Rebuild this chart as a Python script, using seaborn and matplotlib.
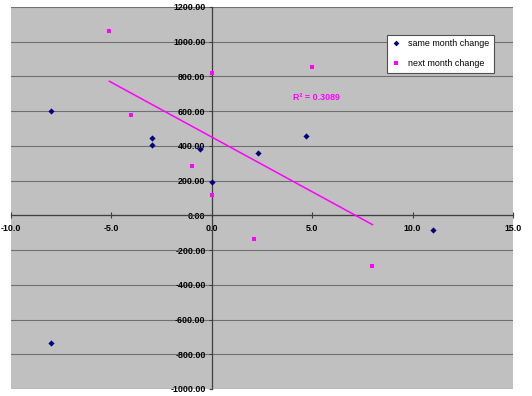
import numpy as np
import pandas as pd
import matplotlib
matplotlib.use("Agg")
import matplotlib.pyplot as plt
from matplotlib.lines import Line2D
from matplotlib.ticker import StrMethodFormatter
import seaborn as sns

# ---- data ----
series_names = ["same month change", "next month change"]
same_x = [-8.0, -3.0, -3.0, -0.6, 0.0, 2.3, 4.7, 11.0, -8.0]
same_y = [602, 446, 408, 381, 194, 362, 456, -85, -735]
next_x = [-5.1, -4.0, -1.0, 0.0, 0.0, 2.1, 5.0, 8.0]
next_y = [1063, 579, 284, 821, 115, -137, 856, -289]
x_ticks = [-10, -5, 0, 5, 10, 15]
y_ticks = list(range(-1000, 1201, 200))
r2_label = "R\u00b2 = 0.3089"

plt.rcParams["font.family"] = ["Liberation Sans", "DejaVu Sans"]
plt.rcParams["axes.unicode_minus"] = False
FS = 6.4
NAVY = "#000080"
MAGENTA = "#FF00FF"

fig = plt.figure(figsize=(5.32, 3.96), dpi=100)
ax = fig.add_axes([11 / 532, 7 / 396, 502 / 532, 382 / 396])
ax.set_facecolor("#C0C0C0")

sns.scatterplot(x=same_x, y=same_y, marker="D", color=NAVY, s=10, linewidth=0,
                ax=ax, zorder=4)
sns.scatterplot(x=next_x, y=next_y, marker="s", color=MAGENTA, s=12, linewidth=0,
                ax=ax, zorder=4)
sns.regplot(x=next_x, y=next_y, scatter=False, ci=None, truncate=True,
            color=MAGENTA, line_kws={"lw": 1.1, "zorder": 3}, ax=ax)

ax.text(4.03, 680, r2_label, color=MAGENTA, fontsize=FS, fontweight="bold",
        ha="left", va="center")

ax.set_xlim(-10, 15)
ax.set_ylim(-1000, 1200)
ax.set_xticks(x_ticks)
ax.set_yticks(y_ticks)
ax.xaxis.set_major_formatter(StrMethodFormatter("{x:.1f}"))
ax.yaxis.set_major_formatter(StrMethodFormatter("{x:.2f}"))
ax.set_xlabel("")
ax.set_ylabel("")

for side in ["top", "right"]:
    ax.spines[side].set_visible(False)
for side in ["left", "bottom"]:
    ax.spines[side].set_position(("data", 0))
    ax.spines[side].set_color("#404040")
    ax.spines[side].set_linewidth(0.9)
    ax.spines[side].set_zorder(2.5)

ax.tick_params(axis="y", direction="out", length=2.5, width=0.8, pad=2,
               labelsize=FS, colors="#404040", labelcolor="black")
ax.tick_params(axis="x", direction="inout", length=4, width=0.8, pad=4,
               labelsize=FS, colors="#404040", labelcolor="black")
for lab in ax.get_xticklabels() + ax.get_yticklabels():
    lab.set_fontweight("bold")

ax.yaxis.grid(True, color="#707070", lw=0.8)
ax.xaxis.grid(False)
ax.set_axisbelow(True)

handles = [
    Line2D([], [], marker="D", color=NAVY, ls="none", markersize=2.9, markeredgewidth=0),
    Line2D([], [], marker="s", color=MAGENTA, ls="none", markersize=3.4, markeredgewidth=0),
]
leg = ax.legend(handles, series_names, loc="upper left", bbox_to_anchor=(0.749, 0.927),
                borderaxespad=0, frameon=True, fancybox=False, edgecolor="#505050",
                facecolor="white", framealpha=1, prop={"size": FS},
                labelspacing=1.25, handlelength=1.0, handletextpad=0.9, borderpad=0.5)
leg.get_frame().set_linewidth(0.8)

fig.savefig("out.png", dpi=100)
